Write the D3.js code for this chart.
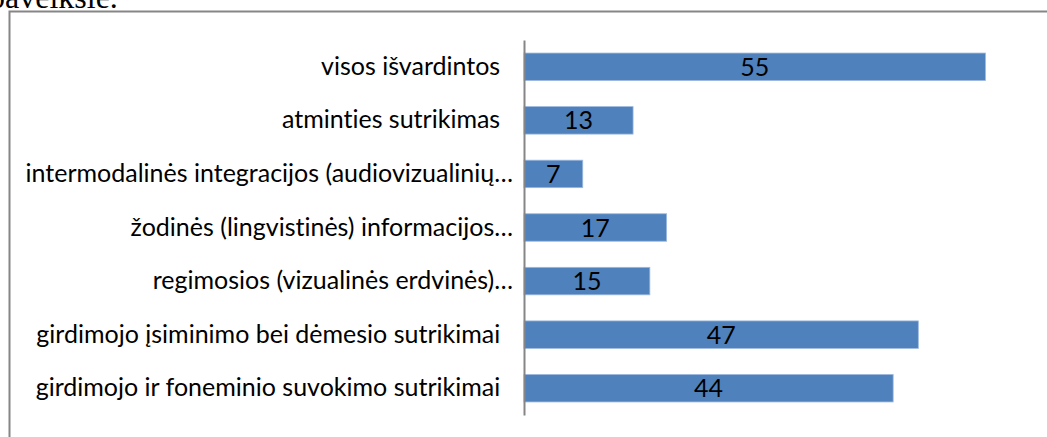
<!DOCTYPE html>
<html>
<head>
<meta charset="utf-8">
<script src="https://cdn.jsdelivr.net/npm/d3@7"></script>
<style>
  body { margin: 0; background: #fff; }
  svg { display: block; }
  text { font-variant-ligatures: none; }
</style>
</head>
<body>
<div class="canvas"></div>
<script>
// chart data
var categories = [
    "visos išvardintos\u00a0\u00a0",
    "atminties sutrikimas\u00a0\u00a0",
    "intermodalinės integracijos (audiovizualinių…",
    "žodinės (lingvistinės) informacijos…",
    "regimosios (vizualinės erdvinės)…",
    "girdimojo įsiminimo bei dėmesio sutrikimai\u00a0\u00a0",
    "girdimojo ir foneminio suvokimo sutrikimai\u00a0\u00a0"
];
var values = [55, 13, 7, 17, 15, 47, 44];

var width = 1047;
var height = 437;

var svg = d3.select(".canvas").append("svg")
    .attr("width", width)
    .attr("height", height);

// bit of caption text from the page above the chart
svg.append("text")
    .attr("x", -11)
    .attr("y", 8)
    .style("font-family", "'Liberation Serif', 'Times New Roman', serif")
    .style("font-size", "32px")
    .text("paveiksle.");

// chart frame
svg.append("rect")
    .attr("x", 9.5)
    .attr("y", 11.5)
    .attr("width", 1050)
    .attr("height", 440)
    .attr("fill", "none")
    .attr("stroke", "#868686")
    .attr("stroke-width", 2);

var x = d3.scaleLinear()
    .domain([0, 60])
    .range([524, 524 + 503.4]);

var y = d3.scaleBand()
    .domain(categories)
    .range([40, 415])
    .paddingInner(0.487)
    .paddingOuter(0.2435);

// bars
svg.append("g")
    .selectAll("rect")
    .data(values)
    .enter().append("rect")
    .attr("x", x(0))
    .attr("y", (d, i) => y(categories[i]))
    .attr("width", d => x(d) - x(0))
    .attr("height", y.bandwidth())
    .attr("fill", "#4F81BD")
    .attr("stroke", "#9DB9DE")
    .attr("stroke-width", 0.8);

// value labels
svg.append("g")
    .selectAll("text")
    .data(values)
    .enter().append("text")
    .attr("x", d => (x(0) + x(d)) / 2)
    .attr("y", (d, i) => y(categories[i]) + y.bandwidth() / 2)
    .attr("dy", "0.36em")
    .attr("text-anchor", "middle")
    .style("font-family", "Lato, sans-serif")
    .style("font-size", "25px")
    .style("fill", "#000")
    .text(d => d);

// category axis
var axis = svg.append("g")
    .attr("transform", "translate(" + x(0) + ",0)")
    .call(d3.axisLeft(y).tickSize(0).tickPadding(11));

axis.select(".domain")
    .attr("stroke", "#868686")
    .attr("stroke-width", 2);

axis.selectAll("text")
    .style("font-family", "Lato, sans-serif")
    .style("font-size", "25px")
    .style("fill", "#000");
</script>
</body>
</html>
